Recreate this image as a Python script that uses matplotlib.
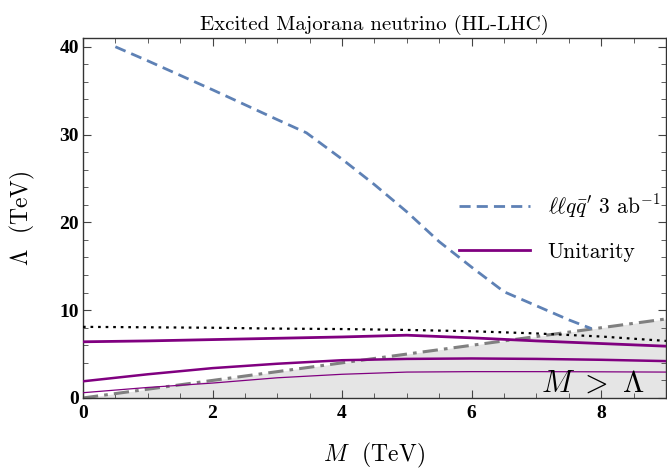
import matplotlib
matplotlib.use("Agg")
import matplotlib.pyplot as plt
from matplotlib.ticker import MultipleLocator
from matplotlib.lines import Line2D

plt.rcParams['mathtext.fontset'] = 'cm'

# ll q qbar' 3 ab^-1 reach (blue dashed)
m_lhc = [0.5, 1.0, 2.0, 3.0, 3.45, 4.0, 4.5, 5.0, 5.5, 6.0, 6.5, 7.0, 7.5, 7.85]
lam_lhc = [40.0, 38.4, 35.1, 31.7, 30.2, 27.2, 24.3, 21.2, 17.8, 14.9, 12.1, 10.5, 8.9, 7.9]

# unitarity curves (purple)
m_uni = [0.0, 1.0, 2.0, 3.0, 4.0, 5.0, 6.0, 7.0, 8.0, 9.0]
lam_uni1 = [6.4, 6.5, 6.65, 6.8, 6.95, 7.15, 6.85, 6.5, 6.2, 5.9]
lam_uni2 = [1.9, 2.7, 3.4, 3.9, 4.3, 4.45, 4.5, 4.45, 4.35, 4.2]
lam_uni3 = [0.6, 1.2, 1.7, 2.3, 2.7, 2.95, 3.0, 3.0, 2.98, 2.95]

# black dotted curve
m_dot = [0.0, 1.0, 2.0, 3.0, 4.0, 5.0, 6.0, 7.0, 8.0, 9.0]
lam_dot = [8.1, 8.05, 8.0, 7.9, 7.85, 7.75, 7.6, 7.35, 7.0, 6.5]

# M > Lambda region
m_diag = [0.0, 9.0]

fig = plt.figure(figsize=(6.67, 4.73), dpi=100)
ax = fig.add_axes([0.1244, 0.1586, 0.874, 0.7611])

ax.fill_between(m_diag, [0, 0], m_diag, color='#e5e5e5', lw=0, zorder=0)
ax.plot(m_diag, m_diag, color='#808080', lw=2.2, dashes=(5, 2, 1.2, 2), zorder=2)

ax.plot(m_dot, lam_dot, color='black', lw=1.6, linestyle=(0, (1.2, 2.2)), zorder=3)
ax.plot(m_uni, lam_uni1, color='#800080', lw=2.0, zorder=3)
ax.plot(m_uni, lam_uni2, color='#800080', lw=1.8, zorder=3)
ax.plot(m_uni, lam_uni3, color='#800080', lw=0.9, zorder=3)
ax.plot(m_lhc, lam_lhc, color='#5E81B5', lw=2.0, dashes=(4, 2.2), zorder=4)

ax.set_xlim(0, 9)
ax.set_ylim(0, 41)

ax.xaxis.set_major_locator(MultipleLocator(2))
ax.xaxis.set_minor_locator(MultipleLocator(0.5))
ax.yaxis.set_major_locator(MultipleLocator(10))
ax.yaxis.set_minor_locator(MultipleLocator(2))
ax.tick_params(which='both', direction='in', top=True, right=True, color='#444444')
ax.tick_params(which='major', length=6, width=0.8)
ax.tick_params(which='minor', length=3.5, width=0.6)
for lab in ax.get_xticklabels() + ax.get_yticklabels():
    lab.set_family('Liberation Serif')
    lab.set_fontweight('bold')
    lab.set_fontsize(14)
ax.tick_params(axis='x', pad=5)
ax.tick_params(axis='y', pad=3)
for s in ax.spines.values():
    s.set_color('#333333')
    s.set_linewidth(1.0)

ax.set_xlabel(r'$M$  (TeV)', fontsize=17, family='cmr10', labelpad=14)
ax.set_ylabel(r'$\Lambda$  (TeV)', fontsize=17, family='cmr10', labelpad=16)
ax.set_title('Excited Majorana neutrino (HL-LHC)', fontsize=15, family='cmr10', pad=6)

ax.text(7.87, 1.7, r'$M\ >\ \Lambda$', fontsize=22, ha='center', va='center', zorder=5)

# legend
h1 = Line2D([], [], color='#5E81B5', lw=2.0, dashes=(4, 2.2))
h2 = Line2D([], [], color='#800080', lw=2.0)
leg = ax.legend([h1, h2], [r"$\ell\ell q\bar{q}'$ 3 ab$^{-1}$", 'Unitarity'],
                loc='center left', bbox_to_anchor=(0.631, 0.475), frameon=False,
                prop={'family': 'cmr10', 'size': 15.5}, handlelength=3.3,
                labelspacing=1.05, handletextpad=0.8, borderaxespad=0)

fig.savefig('out.png', dpi=100)
